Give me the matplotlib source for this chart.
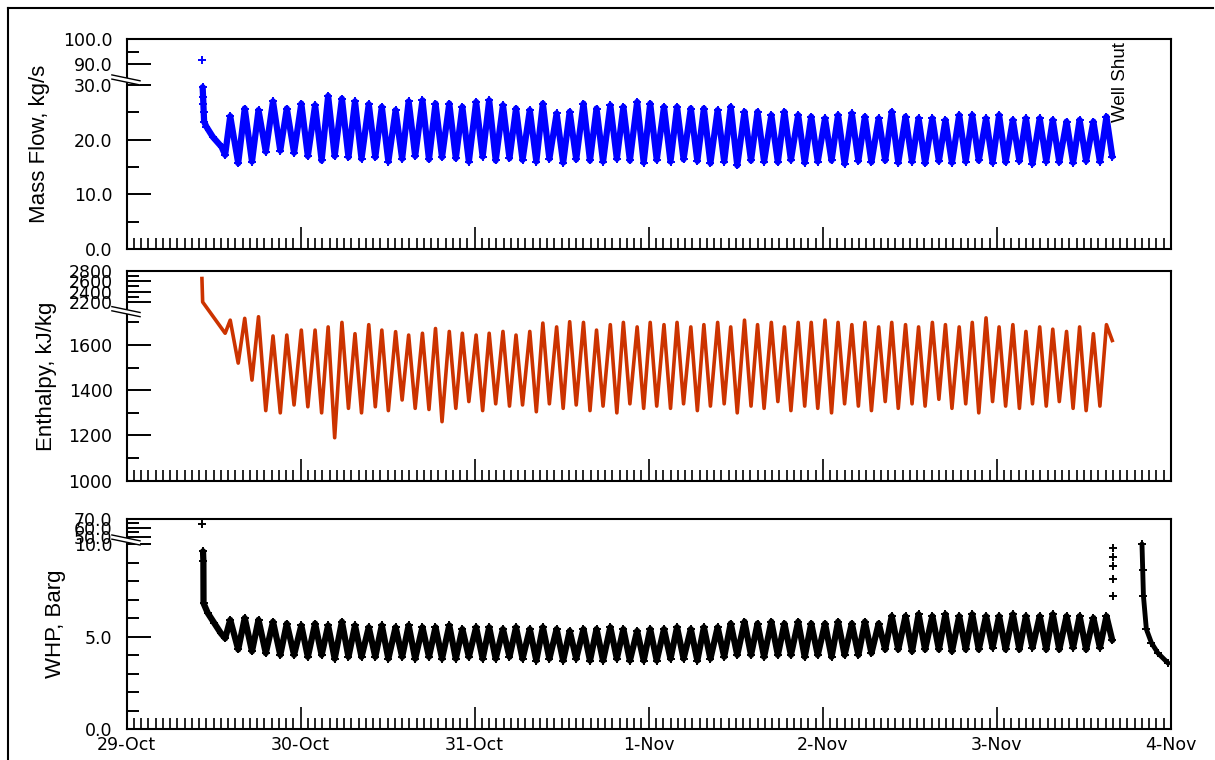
import numpy as np
import matplotlib
matplotlib.use('Agg')
import matplotlib.pyplot as plt
from matplotlib.ticker import FixedLocator, MultipleLocator, NullFormatter
from matplotlib.patches import Polygon

# ---- data (hours since 29-Oct 00:00) ----
day_labels = ['29-Oct', '30-Oct', '31-Oct', '1-Nov', '2-Nov', '3-Nov', '4-Nov']

# cycle turning points, shared by all three records
trough_h = [13.6, 15.4, 17.3, 19.2, 21.2, 23.1, 25.0, 26.9, 28.7, 30.6, 32.4,
            34.3, 36.1, 38.0, 39.8, 41.7, 43.5, 45.4, 47.2, 49.1, 50.9, 52.8,
            54.6, 56.5, 58.3, 60.2, 62.0, 63.9, 65.7, 67.6, 69.4, 71.3, 73.1,
            75.0, 76.8, 78.7, 80.5, 82.4, 84.2, 86.1, 87.9, 89.8, 91.6, 93.5,
            95.3, 97.2, 99.0, 100.9, 102.7, 104.6, 106.4, 108.3, 110.1, 112.0, 113.8,
            115.7, 117.5, 119.4, 121.2, 123.1, 124.9, 126.8, 128.6, 130.5, 132.3, 134.2]
peak_h = [14.3, 16.3, 18.2, 20.2, 22.1, 24.1, 26.0, 27.8, 29.7, 31.5, 33.4,
          35.2, 37.1, 38.9, 40.8, 42.6, 44.5, 46.3, 48.2, 50.0, 51.9, 53.7,
          55.6, 57.4, 59.3, 61.1, 63.0, 64.8, 66.7, 68.5, 70.4, 72.2, 74.1,
          75.9, 77.8, 79.6, 81.5, 83.3, 85.2, 87.0, 88.9, 90.7, 92.6, 94.4,
          96.3, 98.1, 100.0, 101.8, 103.7, 105.5, 107.4, 109.2, 111.1, 112.9, 114.8,
          116.6, 118.5, 120.3, 122.2, 124.0, 125.9, 127.7, 129.6, 131.4, 133.3, 135.1]
end_h = 135.9

# mass flow, kg/s
mf_start_h = [10.5, 10.55, 10.6, 10.65, 10.7, 11.0, 11.9, 13.1]
mf_start = [29.6, 27.8, 26.5, 25.0, 23.3, 22.4, 20.5, 18.7]
mf_first_h, mf_first = 10.4, 91.6
mf_lo = [17.2, 15.7, 16.0, 17.8, 18.0, 17.6, 17.0, 16.2, 17.0, 16.8, 16.5,
         16.8, 16.0, 16.5, 17.0, 16.4, 16.8, 16.6, 16.0, 16.9, 16.2, 16.6,
         16.3, 16.0, 16.5, 15.8, 16.4, 16.2, 16.0, 16.5, 16.2, 15.8, 16.3,
         16.0, 16.4, 16.1, 15.7, 16.0, 15.3, 16.2, 16.0, 15.9, 16.3, 15.8,
         16.0, 16.2, 15.6, 16.1, 15.9, 16.2, 15.8, 16.0, 15.7, 16.1, 15.8,
         16.0, 16.2, 15.8, 15.9, 16.1, 15.6, 16.0, 15.9, 15.8, 16.1, 16.0]
mf_hi = [24.3, 25.7, 25.4, 27.0, 25.7, 26.6, 26.3, 28.0, 27.5, 27.0, 26.5,
         26.0, 25.4, 27.0, 27.2, 26.6, 26.6, 26.0, 26.9, 27.2, 26.3, 25.7,
         25.4, 26.6, 24.8, 25.1, 26.6, 25.7, 26.3, 26.0, 26.9, 26.6, 26.0,
         26.0, 25.7, 25.7, 25.4, 26.0, 25.1, 25.1, 24.5, 25.1, 24.5, 24.2,
         23.9, 24.5, 24.8, 24.2, 23.9, 25.1, 24.2, 23.9, 23.9, 23.6, 24.5,
         24.5, 23.9, 24.5, 23.6, 23.9, 23.9, 23.6, 23.3, 23.6, 23.3, 24.2]
mf_end = 16.9

# enthalpy, kJ/kg
h_start_h = [10.4, 10.5]
h_start = [2650, 2200]
h_lo = [1652, 1520, 1445, 1310, 1300, 1335, 1327, 1300, 1190, 1320, 1300,
        1327, 1310, 1357, 1320, 1315, 1261, 1320, 1350, 1310, 1340, 1330,
        1335, 1305, 1340, 1320, 1335, 1310, 1330, 1300, 1340, 1320, 1330,
        1320, 1340, 1310, 1330, 1340, 1300, 1330, 1320, 1350, 1310, 1330,
        1320, 1300, 1340, 1330, 1310, 1350, 1320, 1340, 1330, 1360, 1320,
        1340, 1300, 1350, 1330, 1320, 1340, 1330, 1350, 1320, 1310, 1330]
h_hi = [1710, 1718, 1725, 1640, 1644, 1666, 1666, 1680, 1700, 1650, 1690,
        1666, 1659, 1644, 1652, 1673, 1660, 1652, 1644, 1652, 1660, 1644,
        1660, 1697, 1680, 1703, 1700, 1666, 1690, 1700, 1680, 1700, 1690,
        1700, 1680, 1690, 1700, 1680, 1710, 1690, 1700, 1680, 1700, 1700,
        1710, 1700, 1690, 1700, 1680, 1700, 1690, 1680, 1700, 1690, 1680,
        1700, 1720, 1680, 1690, 1660, 1680, 1670, 1660, 1680, 1650, 1690]
h_end = 1620

# wellhead pressure, barg
p_first_h, p_first = 10.4, 64.3
p_start_h = [10.55, 10.6, 10.62, 11.2, 12.1, 13.0]
p_start = [9.6, 9.06, 6.8, 6.27, 5.73, 5.18]
p_lo = [4.9, 4.3, 4.2, 4.1, 4.0, 4.0, 3.9, 4.0, 3.8, 3.9, 3.9,
        3.9, 3.8, 3.9, 3.8, 3.9, 3.8, 3.8, 3.9, 3.8, 3.8, 3.9,
        3.8, 3.7, 3.8, 3.7, 3.8, 3.7, 3.7, 3.8, 3.7, 3.7, 3.7,
        3.8, 3.8, 3.7, 3.8, 3.9, 4.0, 4.0, 3.9, 4.0, 4.0, 3.9,
        4.0, 3.9, 4.0, 4.0, 4.1, 4.3, 4.3, 4.2, 4.3, 4.3, 4.2,
        4.3, 4.3, 4.4, 4.3, 4.3, 4.4, 4.3, 4.3, 4.4, 4.3, 4.4]
p_hi = [5.9, 6.0, 5.9, 5.8, 5.7, 5.6, 5.7, 5.6, 5.8, 5.6, 5.5,
        5.6, 5.5, 5.6, 5.5, 5.5, 5.6, 5.4, 5.5, 5.5, 5.4, 5.5,
        5.4, 5.5, 5.4, 5.3, 5.4, 5.4, 5.5, 5.4, 5.3, 5.4, 5.4,
        5.5, 5.4, 5.5, 5.5, 5.7, 5.8, 5.7, 5.8, 5.7, 5.8, 5.7,
        5.7, 5.8, 5.7, 5.8, 5.7, 6.1, 6.1, 6.2, 6.1, 6.2, 6.1,
        6.2, 6.1, 6.1, 6.2, 6.1, 6.1, 6.2, 6.1, 6.1, 6.0, 6.1]
p_end = 4.8
p_shut_h = [136.0, 136.0, 136.0, 136.0, 136.0]
p_shut = [9.8, 9.3, 8.8, 8.1, 7.2]
p_rec_h = [140.0, 140.1, 140.2, 140.6, 141.3, 142.2, 143.6]
p_rec = [10.0, 8.6, 7.2, 5.4, 4.66, 4.1, 3.56]


def cycles(start_h, start_v, lo, hi, last_v):
    t = np.column_stack([trough_h, peak_h]).ravel()
    v = np.column_stack([lo, hi]).ravel()
    return (np.concatenate([start_h, t, [end_h]]),
            np.concatenate([start_v, v, [last_v]]))


def broken_scale(vals, us):
    vals = np.asarray(vals, float)
    us = np.asarray(us, float)

    def piece(x, a, b):
        x = np.asarray(x, float)
        out = np.interp(x, a, b)
        lo_s = (b[1] - b[0]) / (a[1] - a[0])
        hi_s = (b[-1] - b[-2]) / (a[-1] - a[-2])
        out = np.where(x < a[0], b[0] + (x - a[0]) * lo_s, out)
        out = np.where(x > a[-1], b[-1] + (x - a[-1]) * hi_s, out)
        return out

    return (lambda x: piece(x, vals, us)), (lambda u: piece(u, us, vals))


W, H = 1215, 760
fig = plt.figure(figsize=(W / 100, H / 100), dpi=100)

left = 126.5 / W
width = 1044.5 / W
ph = 210 / H


def make_ax(bottom_px):
    return fig.add_axes([left, (H - bottom_px) / H, width, ph])


ax1 = make_ax(249)
ax2 = make_ax(480.7)
ax3 = make_ax(729)

tick_font = dict(family='DejaVu Sans', size=12.5)
label_font = dict(family='Liberation Sans', size=16)


def style(ax, fwd_inv, ylim, major, labels, minor, break_y, show_x):
    ax.set_yscale('function', functions=fwd_inv)
    ax.set_ylim(*ylim)
    ax.set_xlim(0, 144)
    ax.yaxis.set_major_locator(FixedLocator(major))
    ax.yaxis.set_minor_locator(FixedLocator(minor))
    ax.set_yticklabels(labels, **tick_font)
    ax.yaxis.set_minor_formatter(NullFormatter())
    ax.xaxis.set_major_locator(MultipleLocator(24))
    ax.xaxis.set_minor_locator(MultipleLocator(1))
    ax.tick_params(axis='y', which='major', direction='in', length=17, width=1.4, pad=10)
    ax.tick_params(axis='y', which='minor', direction='in', length=8.5, width=1.4)
    ax.tick_params(axis='x', which='major', direction='in', length=16, width=1.2, pad=5)
    ax.tick_params(axis='x', which='minor', direction='in', length=8, width=1.2)
    if show_x:
        ax.set_xticks(np.arange(0, 145, 24))
        ax.set_xticklabels(day_labels, **tick_font)
    else:
        ax.tick_params(axis='x', labelbottom=False)
    for s in ax.spines.values():
        s.set_linewidth(1.5)
    # axis break mark across the left spine
    x0, x1 = -0.014, 0.013
    dy, gap = 0.014, 0.01
    poly = Polygon([[x0, break_y + dy + gap], [x1, break_y - dy + gap],
                    [x1, break_y - dy - gap], [x0, break_y + dy - gap]],
                   closed=True, transform=ax.transAxes, facecolor='white',
                   edgecolor='none', clip_on=False, zorder=5)
    ax.add_patch(poly)
    for g in (gap, -gap):
        ax.plot([x0, x1], [break_y + dy + g, break_y - dy + g], color='black',
                lw=1.0, transform=ax.transAxes, clip_on=False, zorder=6)


style(ax1, broken_scale([0, 30, 90, 100], [0, 164, 185, 210]), (0, 100),
      [0, 10, 20, 30, 90, 100], ['0.0', '10.0', '20.0', '30.0', '90.0', '100.0'],
      [5, 15, 25, 95], 0.805, False)
style(ax2, broken_scale([1000, 1750, 2200, 2800], [0, 169.6, 178.7, 210]), (1000, 2800),
      [1000, 1200, 1400, 1600, 2200, 2400, 2600, 2800],
      ['1000', '1200', '1400', '1600', '2200', '2400', '2600', '2800'],
      [1100, 1300, 1500, 1700, 2300, 2500, 2700], 0.805, False)
style(ax3, broken_scale([0, 10, 50, 70], [0, 185, 192.5, 210]), (0, 70),
      [0, 5, 10, 50, 60, 70], ['0.0', '5.0', '10.0', '50.0', '60.0', '70.0'],
      [1, 2, 3, 4, 6, 7, 8, 9, 55, 65], 0.9, True)

mk = dict(marker='+', ms=6, mew=1.4)
thick = dict(solid_joinstyle='round', solid_capstyle='round')

# mass flow
t, v = cycles(mf_start_h, mf_start, mf_lo, mf_hi, mf_end)
ax1.plot(t, v, color='#0000ff', lw=4.5, **thick, **mk)
ax1.plot([mf_first_h], [mf_first], ls='none', color='#0000ff', **mk)
ax1.text(137.0, 0.985, 'Well Shut', rotation=90, ha='center', va='top',
         transform=ax1.get_xaxis_transform(), family='Liberation Sans', size=13.5)

# enthalpy
t, v = cycles(h_start_h, h_start, h_lo, h_hi, h_end)
ax2.plot(t, v, color='#cc3300', lw=2.6, solid_joinstyle='round')

# WHP
t, v = cycles(p_start_h, p_start, p_lo, p_hi, p_end)
ax3.plot(t, v, color='black', lw=4.5, **thick, **mk)
ax3.plot([p_first_h], [p_first], ls='none', color='black', **mk)
ax3.plot(p_shut_h, p_shut, ls='none', color='black', **mk)
ax3.plot(p_rec_h, p_rec, color='black', lw=3.5, **thick, **mk)

fig.text(40 / W, 1 - 144 / H, 'Mass Flow, kg/s', rotation=90, ha='center', va='center', **label_font)
fig.text(47 / W, 1 - 376 / H, 'Enthalpy, kJ/kg', rotation=90, ha='center', va='center', **label_font)
fig.text(55 / W, 1 - 624 / H, 'WHP, Barg', rotation=90, ha='center', va='center', **label_font)

# outer frame
fig.add_artist(plt.Line2D([8 / W, 8 / W], [0, 1 - 8 / H], color='black', lw=1.5))
fig.add_artist(plt.Line2D([8 / W, 1213 / W], [1 - 8 / H, 1 - 8 / H], color='black', lw=1.5))

fig.savefig('out.png', dpi=100)
